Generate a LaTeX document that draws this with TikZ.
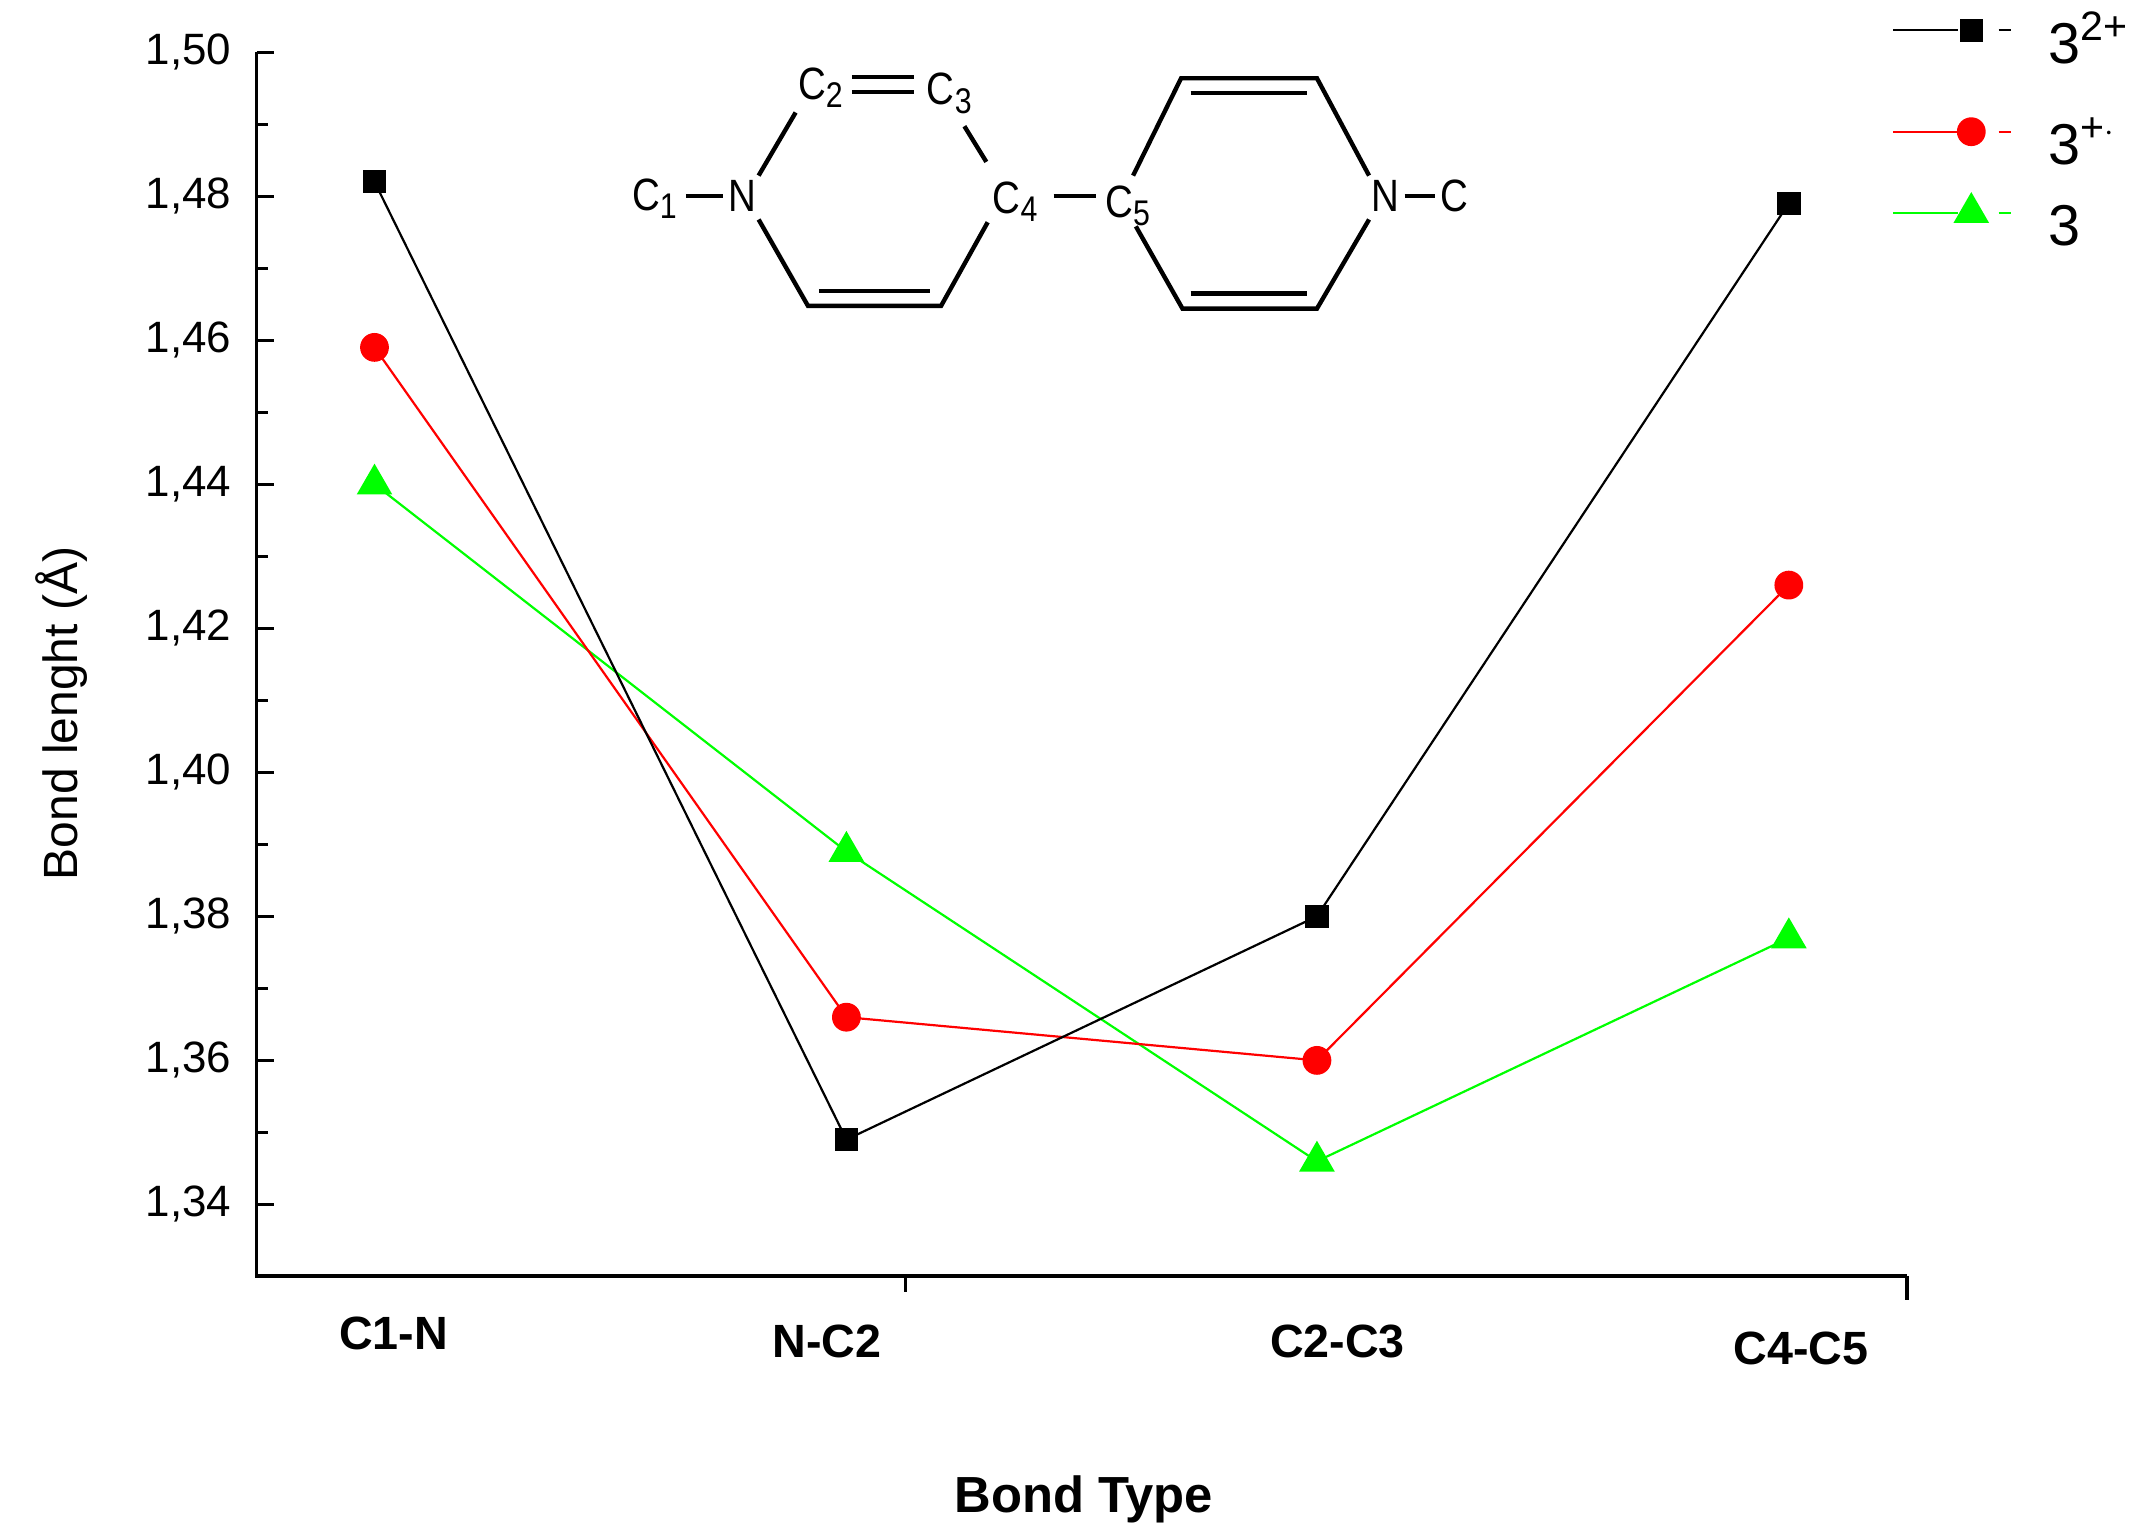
\documentclass[tikz,border=0pt]{standalone}
\usepackage{fontspec}
\usetikzlibrary{shapes.geometric}
\setmainfont{Liberation Sans}
\newcommand{\sbs}[1]{\raisebox{-0.35ex}{\fontsize{26}{26}\selectfont #1}}
\newcommand{\sps}[1]{\raisebox{0.75ex}{\fontsize{30}{30}\selectfont #1}}
\begin{document}
\begin{tikzpicture}[x=1pt,y=-1pt,
  sq/.style={fill=black,draw=none,minimum size=17pt,inner sep=0pt},
  ci/.style={circle,fill=red,draw=none,minimum size=21pt,inner sep=0pt},
  tr/.style={regular polygon,regular polygon sides=3,fill=green,draw=none,minimum size=30pt,inner sep=0pt},
  lbl/.style={font=\fontsize{32}{32}\selectfont,anchor=east},
  cat/.style={font=\fontsize{34}{34}\selectfont\bfseries},
  mol/.style={font=\fontsize{33}{33}\selectfont,inner sep=0pt,xscale=0.85},
  bond/.style={line width=3.2pt}]
\useasboundingbox (0,0) rectangle (1560,1122);
\clip (0,0) rectangle (1560,1122);
\def\Y#1{878-(#1-1.34)/0.02*105}
% axes
\coordinate (o) at (187,930);
\coordinate (t) at (187,38);
\coordinate (r) at (1390,930);
\draw[line width=2.5pt] (t) -- (o) -- (r);
\foreach \s [count=\k from 0] in {34,36,38,40,42,44,46,48,50}{
  \pgfmathsetmacro{\yy}{878-\k*105}
  \draw[line width=2pt] (187,\yy) -- (200,\yy);
  \node[lbl] (yl\k) at (172,\yy) {1,\s};
}
\foreach \i in {0,...,8}{
  \pgfmathsetmacro{\yy}{930.5-\i*105}
  \draw[line width=2pt] (187,\yy) -- (195,\yy);
}
\draw[line width=2.5pt] (660,930) -- (660,942);
\draw[line width=2.5pt] (1390,930) -- (1390,948);
\node[cat] (c1) at (287,972) {C1-N};
\node[cat] (c2) at (603,978) {N-C2};
\node[cat] (c3) at (975,978) {C2-C3};
\node[cat] (c4) at (1313,983) {C4-C5};
\node[font=\fontsize{37}{37}\selectfont\bfseries] (xt) at (790,1093) {Bond Type};
\node[font=\fontsize{35}{35}\selectfont,rotate=90] (yt) at (45,520) {Bond lenght (Å)};
% data
\def\plot#1#2#3#4#5#6#7{%
  \coordinate (#1a) at (273,{\Y{#4}});
  \coordinate (#1b) at (617,{\Y{#5}});
  \coordinate (#1c) at (960,{\Y{#6}});
  \coordinate (#1d) at (1304,{\Y{#7}});
  \draw[#2,line width=1.6pt] (#1a) -- (#1b) -- (#1c) -- (#1d);
  \foreach \p in {a,b,c,d}{\node[#3] at (#1\p) {};}}
\plot{g}{green}{tr}{1.440}{1.389}{1.346}{1.377}
\plot{r}{red}{ci}{1.459}{1.366}{1.360}{1.426}
\plot{k}{black}{sq}{1.482}{1.349}{1.380}{1.479}
% legend
\foreach \c/\m/\yy/\t [count=\j] in {black/sq/22/{3\sps{2+}},red/ci/96/{3\sps{+$\cdot$}},green/tr/155/3}{
  \draw[\c,line width=1.6pt] (1380,\yy) -- (1427,\yy);
  \draw[\c,line width=1.6pt] (1457,\yy) -- (1466,\yy);
  \node[\m] (lm\j) at (1437,\yy) {};
  \node[font=\fontsize{42}{42}\selectfont,anchor=base west,inner sep=0pt] (lt\j) at (1493,{\yy+24}) {\t};
}
% molecule
\node[mol] (C1) at (477,145) {C\sbs{1}};
\node[mol] (N1) at (541,143) {N};
\node[mol] (C2) at (598,64) {C\sbs{2}};
\node[mol] (C3) at (692,68) {C\sbs{3}};
\node[mol] (C4) at (740,147) {C\sbs{4}};
\node[mol] (C5) at (822,150) {C\sbs{5}};
\node[mol] (N2) at (1010,143) {N};
\node[mol] (CM) at (1060,143) {C};
\draw[bond] (500,143) -- (527,143);
\draw[bond] (768,143) -- (799,143);
\draw[bond] (1024,143) -- (1046,143);
\draw[bond] (621,56) -- (666,56);
\draw[bond] (621,67) -- (666,67);
\draw[bond] (553,128) -- (580,82);
\draw[bond] (703,92) -- (719,118);
\draw[bond] (553,160) -- (589,223) -- (686,223) -- (720,162);
\draw[bond] (597,212) -- (678,212);
\draw[bond] (826,128) -- (861,57) -- (960,57) -- (998,128);
\draw[bond] (868,68) -- (953,68);
\draw[bond] (998,160) -- (960,225) -- (862,225) -- (828,165);
\draw[bond] (868,214) -- (953,214);
\end{tikzpicture}
\end{document}
